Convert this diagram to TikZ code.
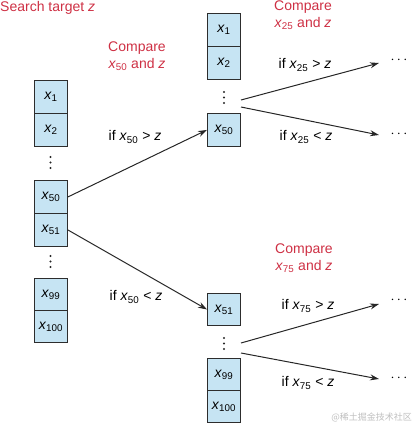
\documentclass[tikz,border=0pt]{standalone}
\usepackage{fontspec}
\setmainfont{Liberation Sans}
\newfontfamily\cjkfont{Noto Sans CJK SC}
\usetikzlibrary{arrows.meta}
\definecolor{cred}{RGB}{206,48,68}
\definecolor{cbox}{RGB}{198,228,243}
\definecolor{cline}{RGB}{45,45,45}
\newcommand{\xv}[1]{\textit{x}\textsubscript{#1}}
\newcommand{\zv}{\textit{z}}
\begin{document}
\begin{tikzpicture}[x=1pt,y=-1pt,
  font=\fontsize{14}{17}\selectfont,
  cell/.style={draw=cline, fill=cbox, line width=0.9pt, minimum width=33pt,
    minimum height=33pt, inner sep=0pt, anchor=north west},
  redlab/.style={text=cred, align=center, inner sep=0pt},
  condlab/.style={inner sep=0pt},
  arr/.style={-{Stealth[length=9pt,width=6pt]}, line width=1pt, black!85},
  vdot/.style={circle, fill=black!85, inner sep=0pt, minimum size=2.2pt}]
\useasboundingbox (0,0) rectangle (413,425);

% left column
\node[cell] (L1) at (34,80) {\xv{1}};
\node[cell] (L2) at (34,113) {\xv{2}};
\node[vdot] (Ld1a) at (50.5,157) {};
\node[vdot] (Ld1b) at (50.5,162.5) {};
\node[vdot] (Ld1c) at (50.5,168) {};
\node[cell] (L50) at (34,180) {\xv{50}};
\node[cell] (L51) at (34,213) {\xv{51}};
\node[vdot] (Ld2a) at (50.5,256) {};
\node[vdot] (Ld2b) at (50.5,261.5) {};
\node[vdot] (Ld2c) at (50.5,267) {};
\node[cell, minimum height=32pt] (L99) at (34,278) {\xv{99}};
\node[cell, minimum height=32pt] (L100) at (34,310) {\xv{100}};

% middle top column
\node[cell] (M1) at (207,13) {\xv{1}};
\node[cell] (M2) at (207,46) {\xv{2}};
\node[vdot] (Mda) at (224,92) {};
\node[vdot] (Mdb) at (224,97.5) {};
\node[vdot] (Mdc) at (224,103) {};
\node[cell] (M50) at (207,113) {\xv{50}};

% middle bottom column
\node[cell, minimum height=32pt] (B51) at (207,293) {\xv{51}};
\node[vdot] (Bda) at (224,338) {};
\node[vdot] (Bdb) at (224,343.5) {};
\node[vdot] (Bdc) at (224,349) {};
\node[cell, minimum height=32pt] (B99) at (207,358) {\xv{99}};
\node[cell, minimum height=32pt] (B100) at (207,390) {\xv{100}};

% labels
\node[redlab, anchor=west] (title) at (0,8) {Search target \zv};
\node[redlab] (c50) at (137,56) {Compare\\\xv{50} and \zv};
\node[redlab] (c25) at (303,15) {Compare\\\xv{25} and \zv};
\node[redlab] (c75) at (304,258) {Compare\\\xv{75} and \zv};

\node[condlab] (i50g) at (135,137) {if \xv{50} > \zv};
\node[condlab] (i50l) at (136,297) {if \xv{50} < \zv};
\node[condlab] (i25g) at (305,65) {if \xv{25} > \zv};
\node[condlab] (i25l) at (306,137) {if \xv{25} < \zv};
\node[condlab] (i75g) at (308,306) {if \xv{75} > \zv};
\node[condlab] (i75l) at (308,383) {if \xv{75} < \zv};

% ellipses
\node[inner sep=0pt] (e1) at (399,60) {$\cdots$};
\node[inner sep=0pt] (e2) at (399,134) {$\cdots$};
\node[inner sep=0pt] (e3) at (399,300) {$\cdots$};
\node[inner sep=0pt] (e4) at (399,378) {$\cdots$};

% connector anchors
\coordinate (s1) at (241,100);
\coordinate (s2) at (241,107);
\coordinate (s3) at (241,343);
\coordinate (s4) at (241,353);
\coordinate (t1) at (379,63);
\coordinate (t2) at (379,135);
\coordinate (t3) at (379,304);
\coordinate (t4) at (379,379);

% arrows
\draw[arr] (L50.east) -- (M50.west);
\draw[arr] (L51.east) -- (B51.west);
\draw[arr] (s1) -- (t1);
\draw[arr] (s2) -- (t2);
\draw[arr] (s3) -- (t3);
\draw[arr] (s4) -- (t4);

% watermark
\node[anchor=east, inner sep=0pt, text=black!25, font=\cjkfont\fontsize{9}{9}\selectfont] (wm) at (412,417) {@稀土掘金技术社区};
\end{tikzpicture}
\end{document}
